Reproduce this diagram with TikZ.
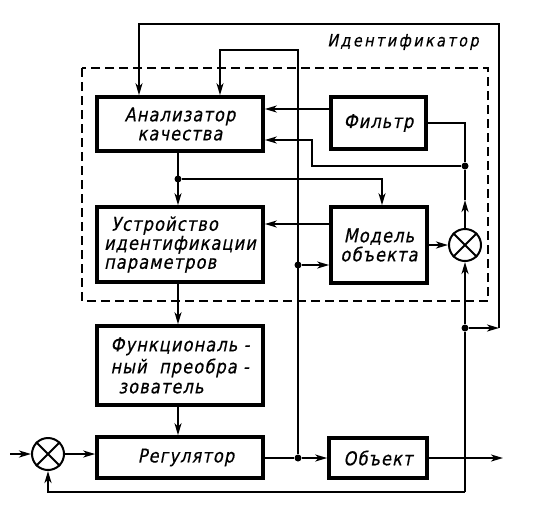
\documentclass[tikz,border=0pt]{standalone}
\usepackage{fontspec}
\setmainfont{DejaVu Sans}[FakeSlant=0.2, FakeStretch=0.85, FakeBold=0.5, LetterSpace=6]
\usetikzlibrary{arrows.meta}
\newcommand\boxfont{\fontsize{19}{19}\selectfont}
\newcommand\labfont{\fontsize{17}{17}\selectfont\addfontfeatures{LetterSpace=14}}
\tikzset{
  box/.style={draw, line width=3.6pt, inner sep=2pt, font=\boxfont, align=center},
  conn/.style={line width=2pt},
  arr/.style={conn, -{Stealth[length=12pt,width=7pt,inset=3.5pt]}},
  dot/.style={circle, fill, inner sep=0pt, minimum size=7pt},
  sum/.style={circle, draw, line width=2pt, minimum size=32pt, inner sep=0pt},
}
\begin{document}
\begin{tikzpicture}[x=1pt,y=-1pt]
\useasboundingbox (0,0) rectangle (534,507);
% dashed identifier frame
\draw[line width=1.8pt, dash pattern=on 9pt off 5pt] (82,68) rectangle (488,301);
\node[font=\labfont] (lab) at (403,42) {Идентификатор};
% boxes
\node[box, minimum width=166, minimum height=54] (an) at (180,124) {Анализатор\\качества};
\node[box, minimum width=166, minimum height=75, align=left] (ust) at (180,244.5) {\hspace*{7pt}Устройство\\идентификации\\параметров};
\node[box, minimum width=166, minimum height=79, align=left] (fun) at (180,365.5) {Функциональ -\\[3pt]ный\ \ преобра -\\[1pt]\hspace*{8pt}зователь};
\node[box, minimum width=166, minimum height=41] (reg) at (180,457.5) {\hspace*{12pt}Регулятор};
\node[box, minimum width=95, minimum height=52] (fil) at (378.5,123) {Фильтр};
\node[box, minimum width=96, minimum height=76] (mod) at (379,245) {Модель\\объекта};
\node[box, minimum width=98, minimum height=40] (obj) at (378,458) {Объект};
% summers
\node[sum] (s2) at (465,245) {};
\node[sum] (s1) at (48,454) {};
\draw[conn] (s1.north west) -- (s1.south east) (s1.north east) -- (s1.south west);
\draw[conn] (s2.north west) -- (s2.south east) (s2.north east) -- (s2.south west);
% dots
\node[dot] (d1) at (178,179) {};
\node[dot] (d2) at (465,166) {};
\node[dot] (d3) at (298,265) {};
\node[dot] (d4) at (298,458) {};
\node[dot] (d5) at (465,328) {};
% helper coordinates
\coordinate (c1) at (499,328);
\coordinate (c2) at (499,24);
\coordinate (c3) at (139,24);
\coordinate (c4) at (298,50);
\coordinate (c5) at (220,50);
\coordinate (c6) at (10,454);
\coordinate (c7) at (503,458);
\coordinate (c8) at (465,492);
\coordinate (c9) at (48,492);
\coordinate (fa) at (331,109);
\coordinate (e1) at (465,123);
\coordinate (e2) at (312,166);
\coordinate (e3) at (312,140);
\coordinate (e4) at (382,179);
\coordinate (e5) at (331,224);
\coordinate (m1) at (465,200);
% connectors
\draw[arr] (fil.west |- fa) -- (an.east |- fa);
\draw[conn] (fil.east) -- (e1) -- (d2);
\draw[arr] (d2) -- (e2) -- (e3) -- (an.east |- e3);
\draw[arr] (s2.north) -- (m1);
\draw[conn] (m1) -- (d2);
\draw[arr] (d1) -- (e4) -- (mod.north -| e4);
\draw[arr] (an.south -| d1) -- (ust.north -| d1);
\draw[arr] (mod.west |- e5) -- (ust.east |- e5);
\draw[arr] (d3) -- (mod.west |- d3);
\draw[arr] (mod.east |- s2) -- (s2.west);
\draw[arr] (d5) -- (s2.south);
\draw[arr] (d5) -- (c1);
\draw[arr] (c1) -- (c2) -- (c3) -- (an.north -| c3);
\draw[arr] (d4) -- (c4) -- (c5) -- (an.north -| c5);
\draw[arr] (ust.south -| d1) -- (fun.north -| d1);
\draw[arr] (fun.south -| d1) -- (reg.north -| d1);
\draw[arr] (c6) -- (s1.west);
\draw[arr] (s1.east) -- (reg.west |- s1);
\draw[conn] (reg.east |- d4) -- (d4);
\draw[arr] (d4) -- (obj.west |- d4);
\draw[arr] (obj.east |- c7) -- (c7);
\draw[conn] (c8) -- (d5);
\draw[arr] (c8) -- (c9) -- (s1.south);
\end{tikzpicture}
\end{document}
